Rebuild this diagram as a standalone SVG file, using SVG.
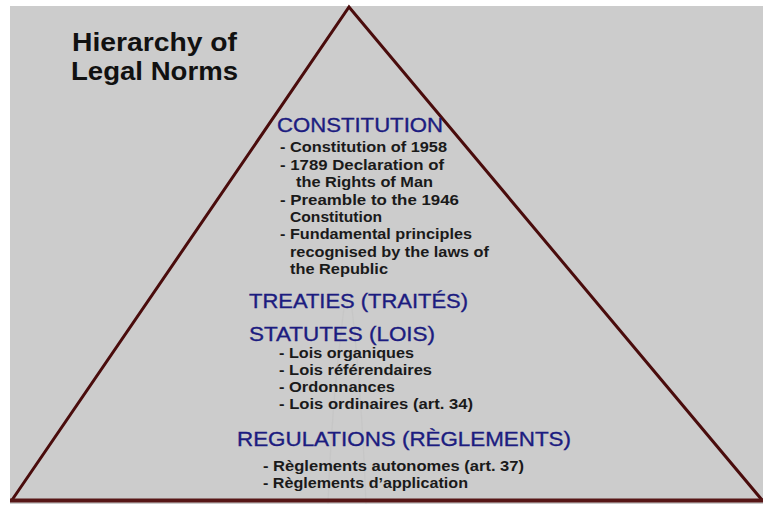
<svg xmlns="http://www.w3.org/2000/svg" width="763" height="506" viewBox="0 0 763 506">
  <style>
    text { font-family: "Liberation Sans", Arial, sans-serif; }
    .title { font-size: 25px; font-weight: bold; fill: #111111; }
    .head { font-size: 20px; fill: #1c1c80; stroke: #1c1c80; stroke-width: 0.35; }
    .item { font-size: 15px; font-weight: bold; fill: #1a1a1a; }
    .edge { fill: none; stroke: #4a0c0c; stroke-width: 3; stroke-linejoin: miter; }
  </style>

  <!-- page background -->
  <rect x="0" y="0" width="763" height="506" fill="#ffffff"/>
  <rect x="10" y="6" width="753" height="498" fill="#cccccc"/>

  <!-- faint watermark column behind the text -->
  <g id="watermark" fill="none" stroke="#c2c2c2" stroke-width="1.2" opacity="0.5">
    <path d="M346 292 C340 340 332 400 328 504"/>
    <path d="M350 292 C356 340 362 400 366 504"/>
  </g>

  <!-- pyramid outline -->
  <g id="pyramid">
    <polyline class="edge" points="12,500 349,7 762,500"/>
    <line x1="10" y1="500.5" x2="763" y2="500.5" stroke="#571616" stroke-width="4"/>
  </g>

  <g id="title">
    <text class="title" x="72" y="51" textLength="165" lengthAdjust="spacingAndGlyphs">Hierarchy of</text>
    <text class="title" x="71" y="80" textLength="167" lengthAdjust="spacingAndGlyphs">Legal Norms</text>
  </g>

  <g id="constitution">
    <text class="head" x="277" y="132" textLength="166" lengthAdjust="spacingAndGlyphs">CONSTITUTION</text>
    <text class="item" x="280" y="152" textLength="167" lengthAdjust="spacingAndGlyphs">- Constitution of 1958</text>
    <text class="item" x="280" y="170" textLength="164" lengthAdjust="spacingAndGlyphs">- 1789 Declaration of</text>
    <text class="item" x="296" y="187" textLength="137" lengthAdjust="spacingAndGlyphs">the Rights of Man</text>
    <text class="item" x="280" y="205" textLength="179" lengthAdjust="spacingAndGlyphs">- Preamble to the 1946</text>
    <text class="item" x="290" y="222" textLength="92" lengthAdjust="spacingAndGlyphs">Constitution</text>
    <text class="item" x="280" y="239" textLength="192" lengthAdjust="spacingAndGlyphs">- Fundamental principles</text>
    <text class="item" x="290" y="257" textLength="199" lengthAdjust="spacingAndGlyphs">recognised by the laws of</text>
    <text class="item" x="290" y="274" textLength="98" lengthAdjust="spacingAndGlyphs">the Republic</text>
  </g>

  <g id="treaties">
    <text class="head" x="249" y="308" textLength="219" lengthAdjust="spacingAndGlyphs">TREATIES (TRAITÉS)</text>
  </g>

  <g id="statutes">
    <text class="head" x="249" y="341" textLength="186" lengthAdjust="spacingAndGlyphs">STATUTES (LOIS)</text>
    <text class="item" x="279" y="358" textLength="135" lengthAdjust="spacingAndGlyphs">- Lois organiques</text>
    <text class="item" x="279" y="375" textLength="153" lengthAdjust="spacingAndGlyphs">- Lois référendaires</text>
    <text class="item" x="279" y="392" textLength="116" lengthAdjust="spacingAndGlyphs">- Ordonnances</text>
    <text class="item" x="279" y="409" textLength="194" lengthAdjust="spacingAndGlyphs">- Lois ordinaires (art. 34)</text>
  </g>

  <g id="regulations">
    <text class="head" x="237" y="446" textLength="334" lengthAdjust="spacingAndGlyphs">REGULATIONS (RÈGLEMENTS)</text>
    <text class="item" x="263" y="471" textLength="261" lengthAdjust="spacingAndGlyphs">- Règlements autonomes (art. 37)</text>
    <text class="item" x="263" y="488" textLength="205" lengthAdjust="spacingAndGlyphs">- Règlements d’application</text>
  </g>

  <!-- no connectors: the levels are stacked inside the pyramid -->
  <g id="connectors"/>
</svg>
